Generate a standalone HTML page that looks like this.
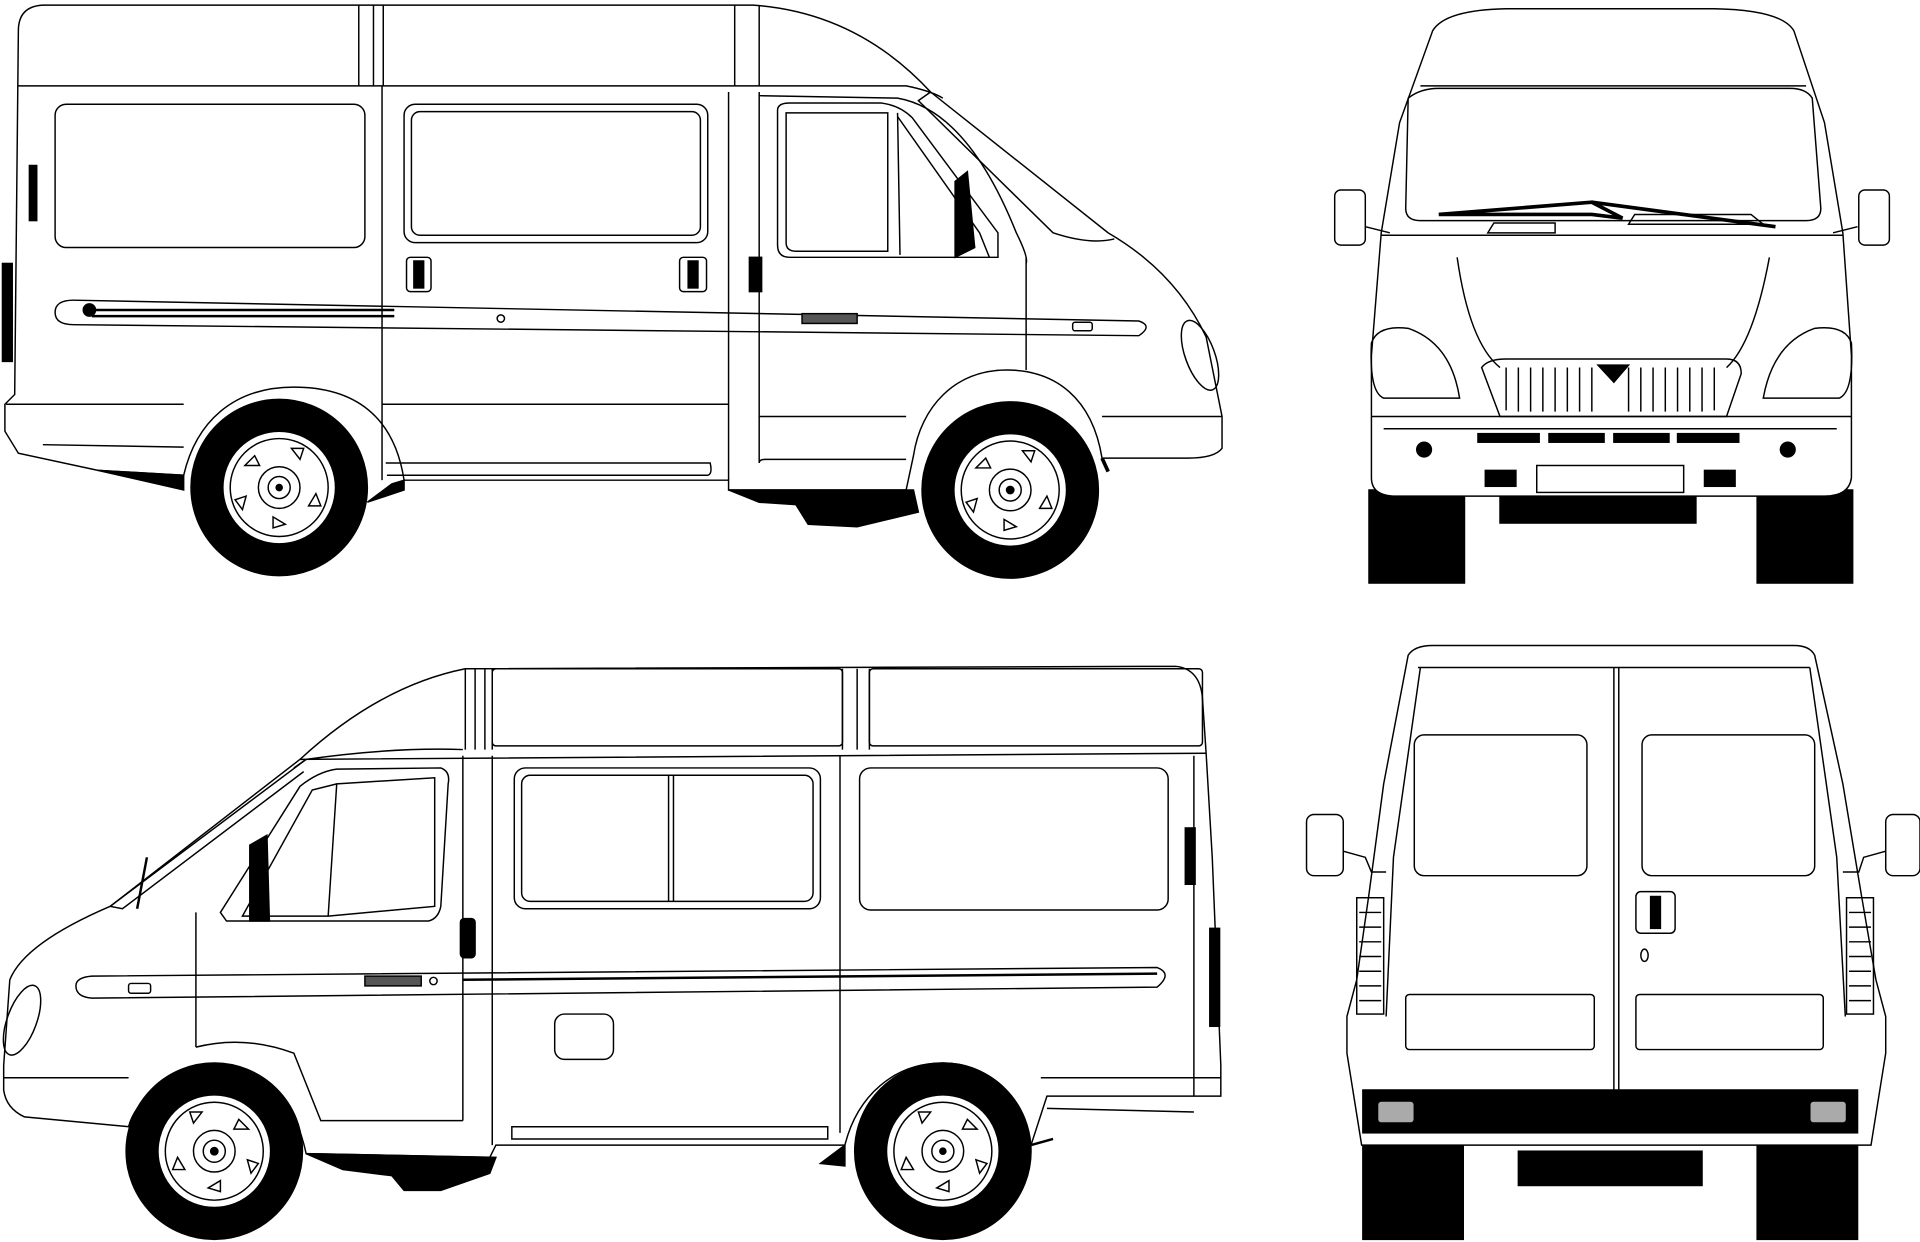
<!DOCTYPE html>
<html><head><meta charset="utf-8"><style>
html,body{margin:0;padding:0;background:#fff;}
svg{display:block;}
</style></head><body>
<svg width="1920" height="1242" viewBox="0 0 1568 1014" xmlns="http://www.w3.org/2000/svg" fill="none" stroke="#000" stroke-width="1.2">
<rect x="0" y="0" width="1568" height="1014" fill="#fff" stroke="none"/>

<!-- ===== TOP-LEFT SIDE VIEW (facing right) ===== -->
<g>
<path d="M15 25 Q15 5 35 4 L615 4 Q700 10 760 75 L905 190 Q960 222 985 275 L998 340 L998 366 Q992 374 970 374 L900 374 C892 325 862 302 822 302 C780 302 752 332 746 372 L740 400 L595 400 L595 392 L330 392 C322 340 290 316 240 316 C190 316 160 345 150 388 L80 384 L15 370 L4 352 L4 330 L12 322 Z" fill="#fff"/>
<path d="M15 70 L740 70 Q760 74 770 80"/>
<path d="M293 4 V70 M305 4 V70 M313 4 V70 M600 4 V70 M620 4 V70"/>
<path d="M760 75 L750 82 L860 190 Q890 200 910 195"/>
<rect x="45" y="85" width="253" height="117" rx="9"/>
<rect x="330" y="85" width="248" height="113" rx="9"/>
<rect x="336" y="91" width="236" height="101" rx="7"/>
<path d="M635 90 Q635 84 645 84 L720 84 Q735 86 745 96 L815 190 L815 210 L645 210 Q635 210 635 200 Z"/>
<path d="M642 92 L725 92 L725 205 L650 205 Q642 205 642 198 Z"/>
<path d="M733 92 L735 208 M733 95 L800 190 L808 210"/>
<path d="M780 148 L790 140 L796 202 L780 210 Z" fill="#000"/>
<path d="M312 70 V392 M595 75 V392 M620 75 V378 Q620 375 625 375 L740 375 M838 210 V302"/>
<path d="M620 78 L733 80 Q790 90 830 190 Q840 210 838 215"/>
<rect x="332" y="210" width="20" height="28" rx="3"/><rect x="338" y="213" width="8" height="22" fill="#000"/>
<rect x="555" y="210" width="22" height="28" rx="3"/><rect x="562" y="213" width="8" height="22" fill="#000"/>
<rect x="612" y="210" width="10" height="28" fill="#000"/>
<rect x="24" y="135" width="6" height="45" fill="#000"/>
<rect x="2" y="215" width="8" height="80" fill="#000"/>
<path d="M45 255 Q45 245 60 245 L930 262 Q942 266 930 274 L60 265 Q45 265 45 255 Z"/>
<path d="M75 253 L322 253 M75 258 L322 258" stroke-width="2"/>
<circle cx="73" cy="253" r="5" fill="#000"/>
<rect x="655" y="256" width="45" height="8" fill="#555"/>
<rect x="876" y="263" width="16" height="7" rx="2"/>
<circle cx="409" cy="260" r="3"/>
<path d="M5 330 L150 330 M312 330 L595 330 M620 340 L740 340 M900 340 L998 340"/>
<path d="M315 378 L580 378 Q582 387 578 388 L316 388"/>
<path d="M35 363 L150 365"/>
<ellipse cx="980" cy="290" rx="12" ry="30" transform="rotate(-20 980 290)"/>
<path d="M150 388 L80 384 L150 400 Z M330 392 L330 400 L300 410 L320 395 Z" fill="#000"/>
<path d="M595 400 L620 410 L650 412 L660 428 L700 430 L750 418 L746 400 Z" fill="#000"/>
<path d="M900 374 L905 385" stroke-width="3"/>
<g transform="translate(228 398)">
<circle r="72" fill="#000"/><circle r="46" fill="#fff"/><circle r="40"/>
<circle r="17"/><circle r="9"/><circle r="2.5" fill="#000"/>
<path d="M-28 -18 l8 -8 l4 8 Z M10 -32 l10 0 l-3 9 Z M30 5 l4 10 l-10 0 Z M5 30 l-10 3 l0 -9 Z M-30 18 l-6 -8 l9 -3 Z"/>
</g>
<g transform="translate(825 400)">
<circle r="72" fill="#000"/><circle r="46" fill="#fff"/><circle r="40"/>
<circle r="17"/><circle r="9"/><circle r="3" fill="#000"/>
<path d="M-28 -18 l8 -8 l4 8 Z M10 -32 l10 0 l-3 9 Z M30 5 l4 10 l-10 0 Z M5 30 l-10 3 l0 -9 Z M-30 18 l-6 -8 l9 -3 Z"/>
</g>
</g>

<!-- ===== TOP-RIGHT FRONT VIEW ===== -->
<g>
<rect x="1118" y="400" width="78" height="76" fill="#000"/>
<rect x="1435" y="400" width="78" height="76" fill="#000"/>
<rect x="1225" y="405" width="160" height="22" fill="#000"/>
<path d="M1170 25 Q1180 8 1230 7 L1400 7 Q1455 8 1465 25 L1490 100 L1505 190 L1512 290 L1512 390 Q1510 405 1490 405 L1140 405 Q1120 405 1120 390 L1120 290 L1128 190 L1143 100 Z" fill="#fff"/>
<path d="M1160 70 L1475 70"/>
<path d="M1150 80 Q1160 72 1175 72 L1462 72 Q1475 72 1480 80 L1487 170 Q1487 180 1475 180 L1160 180 Q1148 180 1148 170 Z"/>
<path d="M1175 175 L1300 165 L1325 178 L1300 175 Z M1300 165 L1450 185" stroke-width="3"/>
<path d="M1330 183 L1440 183 L1430 175 L1335 175 Z M1215 190 L1270 190 L1270 182 L1220 182 Z"/>
<rect x="1090" y="155" width="25" height="45" rx="5" fill="#fff"/>
<path d="M1115 185 L1135 190 M1517 185 L1497 190"/>
<rect x="1518" y="155" width="25" height="45" rx="5" fill="#fff"/>
<path d="M1128 192 L1505 192"/>
<path d="M1190 210 Q1200 280 1225 300 M1445 210 Q1432 280 1410 300"/>
<path d="M1120 280 Q1125 265 1150 268 Q1185 280 1192 325 L1130 325 Q1118 320 1120 280 Z"/>
<path d="M1512 280 Q1507 265 1482 268 Q1448 280 1440 325 L1502 325 Q1514 320 1512 280 Z"/>
<path d="M1210 300 Q1215 293 1230 293 L1410 293 Q1422 293 1422 305 L1410 340 L1225 340 Z"/>
<path d="M1230 300 V335 M1240 300 V336 M1250 300 V336 M1260 300 V336 M1270 300 V336 M1280 300 V336 M1290 300 V336 M1300 300 V336 M1330 300 V336 M1340 300 V336 M1350 300 V336 M1360 300 V336 M1370 300 V336 M1380 300 V336 M1390 300 V336 M1400 300 V335"/>
<path d="M1305 298 L1330 298 L1318 312 Z" fill="#000"/>
<path d="M1120 340 L1512 340 M1130 350 L1500 350"/>
<rect x="1207" y="354" width="50" height="7" fill="#000"/><rect x="1265" y="354" width="45" height="7" fill="#000"/>
<rect x="1318" y="354" width="45" height="7" fill="#000"/><rect x="1370" y="354" width="50" height="7" fill="#000"/>
<circle cx="1163" cy="367" r="6" fill="#000"/><circle cx="1460" cy="367" r="6" fill="#000"/>
<rect x="1213" y="384" width="25" height="13" fill="#000"/><rect x="1392" y="384" width="25" height="13" fill="#000"/>
<rect x="1255" y="380" width="120" height="22" fill="#fff"/>
</g>

<!-- ===== BOTTOM-LEFT SIDE VIEW (facing left) ===== -->
<g>
<path d="M380 546 L960 544 Q980 546 982 570 L985 615 L990 700 L997 870 L997 895 L855 895 L842 935 C830 890 805 868 770 868 C730 868 700 895 690 935 L405 935 L400 945 L250 942 C240 895 215 875 175 875 C135 875 110 900 105 920 L20 912 Q5 905 3 890 L3 870 L8 800 Q20 770 90 740 L245 620 Q310 560 380 546 Z" fill="#fff"/>
<path d="M245 620 L985 615 M240 627 L250 620 Q320 610 378 612"/>
<path d="M380 546 V612 M388 546 V612 M396 546 V612 M402 546 V612 M688 546 V612 M700 546 V612 M710 546 V612"/>
<rect x="402" y="546" width="286" height="63" rx="3"/>
<rect x="710" y="546" width="272" height="63" rx="3"/>
<path d="M250 620 L90 740 L100 742 L248 630"/>
<path d="M180 745 L245 642 Q260 630 275 628 L360 627 Q368 630 366 640 L360 740 Q358 750 350 752 L185 752 Z"/>
<path d="M198 748 L255 645 L275 640 L268 748 Z M275 640 L355 635 L355 740 L268 748"/>
<path d="M204 690 L218 682 L220 752 L204 752 Z" fill="#000"/>
<path d="M120 700 L112 742" stroke-width="2"/>
<rect x="420" y="627" width="250" height="115" rx="9"/>
<rect x="426" y="633" width="238" height="103" rx="7"/>
<path d="M546 633 V736 M550 633 V736"/>
<rect x="702" y="627" width="252" height="116" rx="9"/>
<path d="M160 745 V855 M378 617 V915 M402 617 V935 M686 617 V925 M975 617 V895"/>
<path d="M160 855 Q200 845 240 860 L262 915 L378 915"/>
<rect x="376" y="750" width="12" height="32" rx="3" fill="#000"/>
<rect x="968" y="676" width="8" height="46" fill="#000"/>
<rect x="988" y="758" width="8" height="80" fill="#000"/>
<path d="M62 805 Q62 798 75 797 L945 790 Q958 795 945 806 L75 815 Q62 814 62 805 Z"/>
<path d="M378 800 L945 795" stroke-width="2"/>
<rect x="298" y="797" width="46" height="8" fill="#555"/>
<rect x="105" y="803" width="18" height="8" rx="2"/>
<circle cx="354" cy="801" r="3"/>
<rect x="453" y="828" width="48" height="37" rx="8"/>
<path d="M418 920 L676 920 L676 930 L418 930 Z"/>
<path d="M3 880 L105 880 M850 880 L997 880 M855 905 L975 908"/>
<ellipse cx="18" cy="833" rx="12" ry="30" transform="rotate(20 18 833)"/>
<path d="M250 942 L280 955 L320 960 L330 972 L360 972 L400 958 L405 945 Z" fill="#000"/>
<path d="M690 935 L670 950 L690 952 Z" fill="#000"/>
<path d="M842 935 L860 930" stroke-width="2"/>
<g transform="translate(175 940)">
<circle r="72" fill="#000"/><circle r="46" fill="#fff"/><circle r="40"/>
<circle r="17"/><circle r="9"/><circle r="3" fill="#000"/>
<path d="M28 -18 l-8 -8 l-4 8 Z M-10 -32 l-10 0 l3 9 Z M-30 5 l-4 10 l10 0 Z M-5 30 l10 3 l0 -9 Z M30 18 l6 -8 l-9 -3 Z"/>
</g>
<g transform="translate(770 940)">
<circle r="72" fill="#000"/><circle r="46" fill="#fff"/><circle r="40"/>
<circle r="17"/><circle r="9"/><circle r="2.5" fill="#000"/>
<path d="M28 -18 l-8 -8 l-4 8 Z M-10 -32 l-10 0 l3 9 Z M-30 5 l-4 10 l10 0 Z M-5 30 l10 3 l0 -9 Z M30 18 l6 -8 l-9 -3 Z"/>
</g>
</g>

<!-- ===== BOTTOM-RIGHT REAR VIEW ===== -->
<g>
<rect x="1113" y="920" width="82" height="92" fill="#000"/>
<rect x="1435" y="920" width="82" height="92" fill="#000"/>
<rect x="1240" y="940" width="150" height="28" fill="#000"/>
<path d="M1150 535 Q1155 527 1170 527 L1465 527 Q1478 527 1482 535 L1505 640 L1520 730 L1532 800 L1540 830 L1540 860 L1528 935 L1112 935 L1100 860 L1100 830 L1108 800 L1118 730 L1130 640 Z" fill="#fff"/>
<path d="M1158 545 L1478 545 M1160 545 L1138 700 L1132 830 M1478 545 L1500 700 L1507 830"/>
<path d="M1318 545 V892 M1322 545 V892"/>
<rect x="1155" y="600" width="141" height="115" rx="8"/>
<rect x="1341" y="600" width="141" height="115" rx="8"/>
<rect x="1336" y="728" width="32" height="34" rx="4"/>
<rect x="1348" y="732" width="8" height="26" fill="#000"/>
<ellipse cx="1343" cy="780" rx="3" ry="5"/>
<rect x="1148" y="812" width="154" height="45" rx="3"/>
<rect x="1336" y="812" width="153" height="45" rx="3"/>
<rect x="1108" y="733" width="22" height="95"/>
<path d="M1110 745 H1128 M1110 757 H1128 M1110 769 H1128 M1110 781 H1128 M1110 793 H1128 M1110 805 H1128 M1110 817 H1128"/>
<rect x="1508" y="733" width="22" height="95"/>
<path d="M1510 745 H1528 M1510 757 H1528 M1510 769 H1528 M1510 781 H1528 M1510 793 H1528 M1510 805 H1528 M1510 817 H1528"/>
<rect x="1067" y="665" width="30" height="50" rx="6" fill="#fff"/>
<path d="M1097 695 L1115 700 L1120 712 L1132 712"/>
<rect x="1540" y="665" width="28" height="50" rx="6" fill="#fff"/>
<path d="M1540 695 L1522 700 L1518 712 L1505 712"/>
<rect x="1113" y="890" width="404" height="35" fill="#000"/>
<rect x="1125" y="899" width="30" height="18" rx="3" fill="#aaa"/>
<rect x="1478" y="899" width="30" height="18" rx="3" fill="#aaa"/>
</g>
</svg>
</body></html>
